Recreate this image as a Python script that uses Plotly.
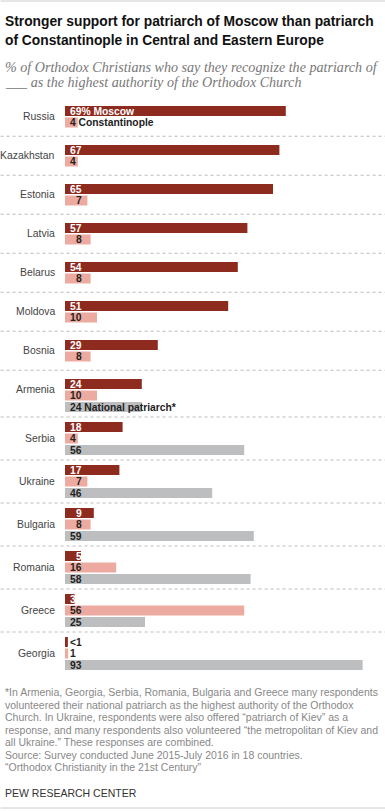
import plotly.graph_objects as go

# ---------------- data ----------------
countries = ["Russia", "Kazakhstan", "Estonia", "Latvia", "Belarus", "Moldova", "Bosnia",
             "Armenia", "Serbia", "Ukraine", "Bulgaria", "Romania", "Greece", "Georgia"]
moscow = [69, 67, 65, 57, 54, 51, 29, 24, 18, 17, 9, 5, 3, 0.9]
moscow_labels = ["69% Moscow", "67", "65", "57", "54", "51", "29", "24", "18", "17", "9", "5", "3", "<1"]
constantinople = [4, 4, 7, 8, 8, 10, 8, 10, 4, 7, 8, 16, 56, 1]
const_labels = ["4 Constantinople", "4", "7", "8", "8", "10", "8", "10", "4", "7", "8", "16", "56", "1"]
national = [None, None, None, None, None, None, None, 24, 56, 46, 59, 58, 25, 93]
national_labels = [None, None, None, None, None, None, None, "24 National patriarch*",
                   "56", "46", "59", "58", "25", "93"]

title_lines = ["Stronger support for patriarch of Moscow than patriarch",
               "of Constantinople in Central and Eastern Europe"]
subtitle_lines = ["% of Orthodox Christians who say they recognize the patriarch of",
                  "___ as the highest authority of the Orthodox Church"]
note_lines = [
    "*In Armenia, Georgia, Serbia, Romania, Bulgaria and Greece many respondents",
    "volunteered their national patriarch as the highest authority of the Orthodox",
    "Church. In Ukraine, respondents were also offered \u201cpatriarch of Kiev\u201d as a",
    "response, and many respondents also volunteered \u201cthe metropolitan of Kiev and",
    "all Ukraine.\u201d These responses are combined.",
    "Source: Survey conducted June 2015-July 2016 in 18 countries.",
    "\u201cOrthodox Christianity in the 21st Century\u201d",
]
credit = "PEW RESEARCH CENTER"

# ---------------- styling ----------------
W, H = 385, 811
L = 64.5                    # bar origin, px
XMAX = 100
PX_PER_UNIT = (W - L) / XMAX
C_MOS = "#8E2B1F"
C_CON = "#EDAAA0"
C_NAT = "#BDBEC0"
SANS = "Liberation Sans, Arial, sans-serif"
SERIF = "Liberation Serif, Georgia, serif"

BAR_PITCH = 11.5
BAR_H = 10
START = 111
GROUP_H = {2: 39, 3: 43}
legend_row = national.index(next(v for v in national if v is not None))

def px2paper(px):
    return (px - L) / (W - L)

rows = []
cursor = START
for i in range(len(countries)):
    n = 3 if national[i] is not None else 2
    rows.append([cursor + k * BAR_PITCH for k in range(n)])
    cursor += GROUP_H[n]

y_mos = [r[0] for r in rows]
y_con = [r[1] for r in rows]
nat_idx = [i for i in range(len(countries)) if national[i] is not None]
y_nat = [rows[i][2] for i in nat_idx]

fig = go.Figure()
fig.add_trace(go.Bar(x=moscow, y=y_mos, orientation="h", width=BAR_H,
                     marker=dict(color=C_MOS, line=dict(width=0)), hoverinfo="skip"))
fig.add_trace(go.Bar(x=constantinople, y=y_con, orientation="h", width=BAR_H,
                     marker=dict(color=C_CON, line=dict(width=0)), hoverinfo="skip"))
fig.add_trace(go.Bar(x=[national[i] for i in nat_idx], y=y_nat, orientation="h", width=BAR_H,
                     marker=dict(color=C_NAT, line=dict(width=0)), hoverinfo="skip"))

ann = []

def bar_label(text, value, y, inside_color):
    base_px = L + 3
    single = len(text) == 1
    off = 5.8 if (single and value >= 5) else 0
    text_w = 6 * len(text)
    fits = value * PX_PER_UNIT >= text_w + 2 or len(text) > 3
    color = inside_color if fits else "#222222"
    ann.append(dict(xref="paper", yref="y", x=px2paper(base_px + off), y=y + 0.3, xanchor="left",
                    yanchor="middle", text="<b>%s</b>" % text, showarrow=False,
                    font=dict(family=SANS, size=10.3, color=color)))

for i, c in enumerate(countries):
    ys = rows[i]
    bar_label(moscow_labels[i], moscow[i], ys[0], "#FFFFFF")
    bar_label(const_labels[i], constantinople[i], ys[1], "#222222")
    if national[i] is not None:
        bar_label(national_labels[i], national[i], ys[2], "#222222")
    ly = sum(ys[:2]) / 2 if (i == legend_row or len(ys) == 2) else ys[1]
    ann.append(dict(xref="paper", yref="y", x=px2paper(56.5), y=ly, xanchor="right",
                    yanchor="middle", text=c, showarrow=False,
                    font=dict(family=SANS, size=10.4, color="#444444")))

shapes = []
for i in range(len(rows) - 1):
    sy = (rows[i][-1] + rows[i + 1][0]) / 2
    shapes.append(dict(type="line", xref="paper", yref="y", x0=px2paper(0), x1=px2paper(W),
                       y0=sy, y1=sy, line=dict(color="#BBBBBB", width=1, dash="dot")))
for yy in (1, 808):
    shapes.append(dict(type="line", xref="paper", yref="y", x0=px2paper(0), x1=px2paper(W),
                       y0=yy, y1=yy, line=dict(color="#CCCCCC", width=1)))

for t, y in zip(title_lines, [21, 40]):
    ann.append(dict(xref="paper", yref="y", x=px2paper(2), y=y, xanchor="left", yanchor="middle",
                    text="<b>%s</b>" % t, showarrow=False,
                    font=dict(family=SANS, size=13.8, color="#111111")))
for t, y in zip(subtitle_lines, [67, 82]):
    ann.append(dict(xref="paper", yref="y", x=px2paper(2), y=y, xanchor="left", yanchor="middle",
                    text="<i>%s</i>" % t, showarrow=False,
                    font=dict(family=SERIF, size=14.1, color="#777777")))
for k, t in enumerate(note_lines):
    ann.append(dict(xref="paper", yref="y", x=px2paper(2), y=692 + k * 12.5, xanchor="left",
                    yanchor="middle", text=t, showarrow=False,
                    font=dict(family=SANS, size=10.5, color="#888888")))
ann.append(dict(xref="paper", yref="y", x=px2paper(2), y=793, xanchor="left", yanchor="middle",
                text=credit, showarrow=False, font=dict(family=SANS, size=10.5, color="#333333")))

fig.update_layout(
    width=W, height=H, margin=dict(l=L, r=0, t=0, b=0),
    paper_bgcolor="white", plot_bgcolor="white",
    showlegend=False, barmode="overlay",
    xaxis=dict(range=[0, XMAX], visible=False, fixedrange=True),
    yaxis=dict(range=[H, 0], visible=False, fixedrange=True),
    annotations=ann, shapes=shapes,
)
fig.write_html("out.html", config={"displayModeBar": False},
               post_script="document.body.style.margin='0px';")
